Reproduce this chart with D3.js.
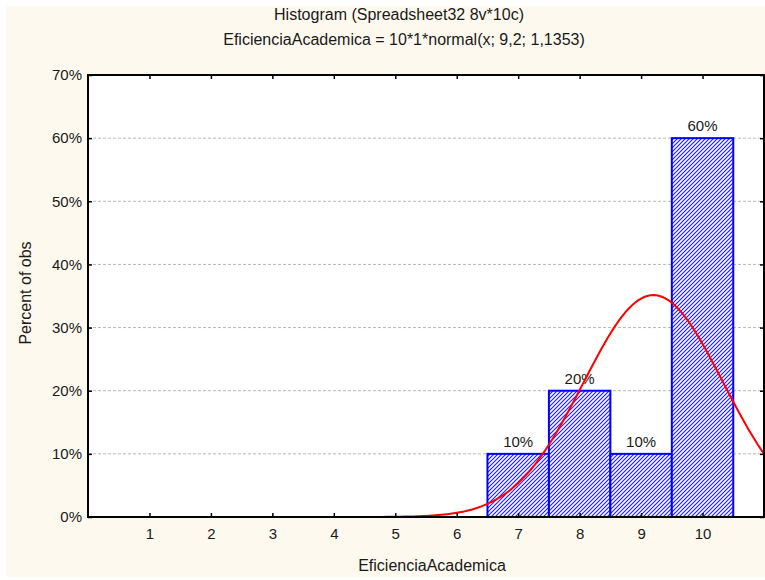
<!DOCTYPE html>
<html>
<head>
<meta charset="utf-8">
<script src="https://cdn.jsdelivr.net/npm/d3@7"></script>
<style>
  html, body { margin: 0; padding: 0; background: #ffffff; }
  svg { display: block; font-family: "Liberation Sans", Arial, sans-serif; }
</style>
</head>
<body>
<svg id="chart" width="765" height="580"></svg>
<script>
// Histogram data: bin centres and percent of observations
const categories = [1, 2, 3, 4, 5, 6, 7, 8, 9, 10];
const percents   = [0, 0, 0, 0, 0, 0, 10, 20, 10, 60];
const yTicks     = [0, 10, 20, 30, 40, 50, 60, 70];

// Fitted normal: EficienciaAcademica = 10*1*normal(x; 9,2; 1,1353)
const fitN = 10, fitBinWidth = 1, fitMean = 9.2, fitSd = 1.1353;

const titleText = "Histogram (Spreadsheet32 8v*10c)";
const subtitleText = "EficienciaAcademica = 10*1*normal(x; 9,2; 1,1353)";
const xLabel = "EficienciaAcademica";
const yLabel = "Percent of obs";

const svg = d3.select("#chart");
const W = 765, H = 580;
const plot = { left: 88, right: 764, top: 75, bottom: 517 };
const ink = "#1a1a1a";

// page panel
svg.append("rect").attr("x", 6).attr("y", 6).attr("width", W).attr("height", H - 9)
  .attr("fill", "#fdf9ee");

const x = d3.scaleLinear().domain([0, 11]).range([plot.left, plot.right]);
const y = d3.scaleLinear().domain([0, 70]).range([plot.bottom, plot.top]);

// blue diagonal hatch for bars
const defs = svg.append("defs");
const pat = defs.append("pattern").attr("id", "barHatch")
  .attr("patternUnits", "userSpaceOnUse").attr("width", 4).attr("height", 4);
pat.append("rect").attr("width", 4).attr("height", 4).attr("fill", "#ffffff");
pat.append("path").attr("d", "M-1,1 L1,-1 M0,4 L4,0 M3,5 L5,3")
  .attr("stroke", "#2020ff").attr("stroke-width", 1.2).attr("fill", "none");

// plot background
svg.append("rect").attr("x", plot.left).attr("y", plot.top)
  .attr("width", plot.right - plot.left).attr("height", plot.bottom - plot.top)
  .attr("fill", "#ffffff");

// gridlines
svg.append("g").selectAll("line").data(yTicks.filter(t => t > 0 && t < 70)).join("line")
  .attr("x1", plot.left).attr("x2", plot.right)
  .attr("y1", d => y(d)).attr("y2", d => y(d))
  .attr("stroke", "#b8b8b8").attr("stroke-width", 1).attr("stroke-dasharray", "3,2");

// bars
const bins = categories.map((c, i) => ({ c, p: percents[i] })).filter(d => d.p > 0);
svg.append("g").selectAll("rect").data(bins).join("rect")
  .attr("x", d => x(d.c - 0.5)).attr("width", d => x(d.c + 0.5) - x(d.c - 0.5))
  .attr("y", d => y(d.p)).attr("height", d => y(0) - y(d.p))
  .attr("fill", "url(#barHatch)").attr("stroke", "#0000ff").attr("stroke-width", 2);

// bar value labels
svg.append("g").selectAll("text").data(bins).join("text")
  .attr("x", d => x(d.c)).attr("y", d => y(d.p) - 7)
  .attr("text-anchor", "middle").attr("font-size", 15).attr("fill", ink)
  .text(d => d.p + "%");

// fitted normal curve, in percent of observations
const normalPct = v => fitN * fitBinWidth * Math.exp(-0.5 * ((v - fitMean) / fitSd) ** 2)
  / (fitSd * Math.sqrt(2 * Math.PI)) / fitN * 100;
const curveX = d3.range(0, 11.0001, 0.05);
svg.append("path").datum(curveX)
  .attr("d", d3.line().x(v => x(v)).y(v => y(normalPct(v))))
  .attr("fill", "none").attr("stroke", "#ff0000").attr("stroke-width", 2);

// axes with inward ticks
const axL = d3.axisLeft(y).tickValues(yTicks).tickSize(-4).tickPadding(6).tickFormat(d => d + "%");
const axR = d3.axisRight(y).tickValues(yTicks).tickSize(-4).tickFormat("");
const axB = d3.axisBottom(x).tickValues(categories).tickSize(-4).tickPadding(11);
const axT = d3.axisTop(x).tickValues(categories).tickSize(-4).tickFormat("");

function styleAxis(g) {
  g.select(".domain").remove();
  g.selectAll(".tick line").attr("stroke", "#000").attr("stroke-width", 1.5);
  g.selectAll(".tick text").attr("font-size", 15).attr("fill", ink)
    .attr("font-family", "Liberation Sans, Arial, sans-serif");
}
svg.append("g").attr("transform", `translate(${plot.left},0)`).call(axL).call(styleAxis);
svg.append("g").attr("transform", `translate(${plot.right},0)`).call(axR).call(styleAxis);
svg.append("g").attr("transform", `translate(0,${plot.bottom})`).call(axB).call(styleAxis);
svg.append("g").attr("transform", `translate(0,${plot.top})`).call(axT).call(styleAxis);

// frame
svg.append("rect").attr("x", plot.left).attr("y", plot.top)
  .attr("width", plot.right - plot.left).attr("height", plot.bottom - plot.top)
  .attr("fill", "none").attr("stroke", "#000").attr("stroke-width", 2);

// titles
svg.append("text").attr("x", 399).attr("y", 20).attr("text-anchor", "middle")
  .attr("font-size", 16).attr("fill", ink).text(titleText);
svg.append("text").attr("x", 404).attr("y", 45).attr("text-anchor", "middle")
  .attr("font-size", 16).attr("fill", ink).text(subtitleText);

// axis titles
svg.append("text").attr("x", 432).attr("y", 571)
  .attr("text-anchor", "middle").attr("font-size", 16).attr("fill", ink).text(xLabel);
svg.append("text").attr("transform", `translate(31,${(plot.top + plot.bottom) / 2 - 3}) rotate(-90)`)
  .attr("text-anchor", "middle").attr("font-size", 16).attr("fill", ink).text(yLabel);
</script>
</body>
</html>
